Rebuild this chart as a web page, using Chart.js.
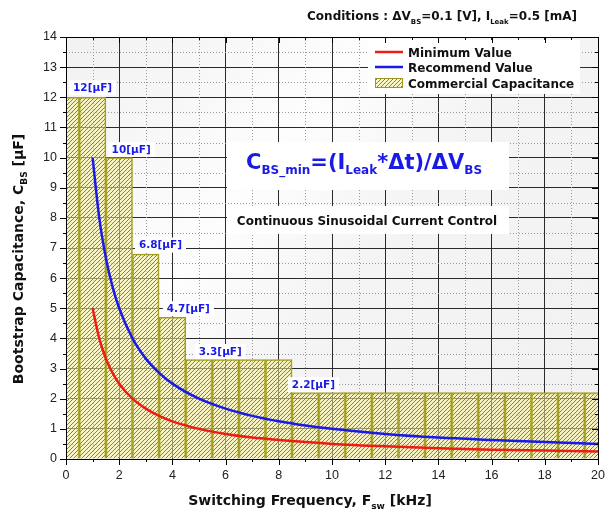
<!DOCTYPE html>
<html>
<head>
<meta charset="utf-8">
<script src="https://cdn.jsdelivr.net/npm/chart.js@4/dist/chart.umd.min.js"></script>
<style>
  body { margin: 0; background: #fff; }
</style>
</head>
<body>
<canvas id="chart" width="605" height="512"></canvas>
<script>
// commercial capacitor steps, one bar per kHz (centred on integers)
const barFreq = [0, 1, 2, 3, 4, 5, 6, 7, 8, 9, 10, 11, 12, 13, 14, 15, 16, 17, 18, 19, 20];
const barCap = [12, 12, 10, 6.8, 4.7, 3.3, 3.3, 3.3, 3.3, 2.2, 2.2, 2.2, 2.2, 2.2, 2.2, 2.2, 2.2, 2.2, 2.2, 2.2, 2.2];

// curves
const curveFreq = [1, 1.25, 1.5, 1.75, 2, 2.5, 3, 3.5, 4, 5, 6, 7, 8, 9, 10, 12, 14, 16, 18, 20];
const recommendCap = [10, 8, 6.67, 5.71, 5, 4, 3.33, 2.86, 2.5, 2, 1.67, 1.43, 1.25, 1.11, 1, 0.83, 0.71, 0.63, 0.56, 0.5];
const minimumCap = [5, 4, 3.33, 2.86, 2.5, 2, 1.67, 1.43, 1.25, 1, 0.83, 0.71, 0.63, 0.56, 0.5, 0.42, 0.36, 0.31, 0.28, 0.25];

// value tags above the steps
const tagText = ['12[µF]', '10[µF]', '6.8[µF]', '4.7[µF]', '3.3[µF]', '2.2[µF]'];
const tagFreq = [1.0, 2.45, 3.55, 4.6, 5.8, 9.3];
const tagCap = [12.3, 10.25, 7.08, 4.97, 3.55, 2.45];

const FONT = '"DejaVu Sans", Verdana, sans-serif';
const RED = '#ee1c12';
const BLUE = '#1a1ae6';

// diagonal hatch like the origin plot
const makeHatch = () => {
  const p = document.createElement('canvas');
  p.width = 4; p.height = 4;
  const c = p.getContext('2d');
  c.fillStyle = 'rgba(246,238,150,0.55)';
  c.fillRect(0, 0, 4, 4);
  c.strokeStyle = '#8e8a0c';
  c.lineWidth = 1;
  c.beginPath();
  c.moveTo(0, 4); c.lineTo(4, 0);
  c.moveTo(-1, 1); c.lineTo(1, -1);
  c.moveTo(3, 5); c.lineTo(5, 3);
  c.stroke();
  return document.getElementById('chart').getContext('2d').createPattern(p, 'repeat');
};
const hatch = makeHatch();

// draw text made of pieces (for subscripts)
const drawRich = (ctx, parts, x, y, align, color) => {
  let w = 0;
  parts.forEach(p => { ctx.font = `bold ${p[1]}px ${FONT}`; w += ctx.measureText(p[0]).width; });
  let cx = align === 'center' ? x - w / 2 : align === 'right' ? x - w : x;
  ctx.fillStyle = color;
  ctx.textAlign = 'left';
  ctx.textBaseline = 'alphabetic';
  parts.forEach(p => {
    ctx.font = `bold ${p[1]}px ${FONT}`;
    ctx.fillText(p[0], cx, y + (p[2] || 0));
    cx += ctx.measureText(p[0]).width;
  });
  return w;
};

const decorPlugin = {
  id: 'decor',
  beforeDraw(chart) {
    const { ctx, chartArea: a } = chart;
    ctx.save();
    const g = ctx.createLinearGradient(a.left, a.top, a.right, a.bottom);
    g.addColorStop(0, '#f1f1f1');
    g.addColorStop(0.35, '#fdfdfd');
    g.addColorStop(0.55, '#f4f4f4');
    g.addColorStop(1, '#f1f1f1');
    ctx.fillStyle = g;
    ctx.fillRect(a.left, a.top, a.right - a.left, a.bottom - a.top);
    ctx.restore();
  },
  beforeDatasetsDraw(chart) {
    // dotted minor grid
    const { ctx, chartArea: a, scales: { x, y } } = chart;
    ctx.save();
    ctx.strokeStyle = '#9a9a9a';
    ctx.lineWidth = 1;
    ctx.setLineDash([1, 2]);
    for (let v = 1; v < 20; v += 2) {
      const px = Math.round(x.getPixelForValue(v)) + 0.5;
      ctx.beginPath(); ctx.moveTo(px, a.top); ctx.lineTo(px, a.bottom); ctx.stroke();
    }
    for (let v = 0.5; v < 14; v += 1) {
      const py = Math.round(y.getPixelForValue(v)) + 0.5;
      ctx.beginPath(); ctx.moveTo(a.left, py); ctx.lineTo(a.right, py); ctx.stroke();
    }
    ctx.restore();
  },
  afterDatasetsDraw(chart) {
    const { ctx, chartArea: a, scales: { x, y } } = chart;
    ctx.save();

    // step tags
    ctx.font = `bold 10.5px ${FONT}`;
    ctx.textBaseline = 'middle';
    ctx.textAlign = 'center';
    tagText.forEach((t, i) => {
      const px = x.getPixelForValue(tagFreq[i]);
      const py = y.getPixelForValue(tagCap[i]);
      const w = ctx.measureText(t).width;
      ctx.fillStyle = '#fff';
      ctx.fillRect(px - w / 2 - 4, py - 8, w + 8, 15);
      ctx.fillStyle = BLUE;
      ctx.fillText(t, px, py);
    });

    // formula box
    ctx.fillStyle = '#fff';
    ctx.fillRect(227, 142, 282, 48);
    drawRich(ctx, [['C', 21], ['BS_min', 12, 5], ['=(I', 21], ['Leak', 12, 5], ['*Δt)/ΔV', 21], ['BS', 12, 5]], 364, 169, 'center', BLUE);
    ctx.fillStyle = '#fff';
    ctx.fillRect(227, 206, 282, 28);
    drawRich(ctx, [['Continuous Sinusoidal Current Control', 12]], 367, 225, 'center', '#111');

    // legend
    ctx.fillStyle = '#fff';
    ctx.fillRect(368, 40, 212, 54);
    ctx.lineWidth = 2.5;
    ctx.strokeStyle = RED;
    ctx.beginPath(); ctx.moveTo(375, 52); ctx.lineTo(403, 52); ctx.stroke();
    ctx.strokeStyle = BLUE;
    ctx.beginPath(); ctx.moveTo(375, 67); ctx.lineTo(403, 67); ctx.stroke();
    ctx.fillStyle = hatch;
    ctx.fillRect(375, 78, 28, 10);
    ctx.strokeStyle = '#9a9820';
    ctx.lineWidth = 1;
    ctx.strokeRect(375.5, 78.5, 27, 9);
    drawRich(ctx, [['Minimum Value', 12]], 408, 57, 'left', '#111');
    drawRich(ctx, [['Recommend Value', 12]], 408, 72, 'left', '#111');
    drawRich(ctx, [['Commercial Capacitance', 12]], 408, 88, 'left', '#111');

    ctx.restore();
  },
  afterDraw(chart) {
    const { ctx, chartArea: a, scales: { x, y } } = chart;
    ctx.save();
    ctx.strokeStyle = '#000';
    ctx.lineWidth = 1;
    // frame
    ctx.strokeRect(Math.round(a.left) + 0.5, Math.round(a.top) + 0.5, Math.round(a.right - a.left), Math.round(a.bottom - a.top));
    // ticks
    ctx.beginPath();
    for (let v = 0; v <= 20; v++) {
      const px = Math.round(x.getPixelForValue(v)) + 0.5;
      const len = v % 2 === 0 ? 6 : 3;
      ctx.moveTo(px, a.bottom); ctx.lineTo(px, a.bottom + len);
      ctx.moveTo(px, a.top); ctx.lineTo(px, a.top + len);
    }
    for (let v = 0; v <= 14; v += 0.5) {
      const py = Math.round(y.getPixelForValue(v)) + 0.5;
      const len = Number.isInteger(v) ? 6 : 3;
      ctx.moveTo(a.left, py); ctx.lineTo(a.left - len, py);
      ctx.moveTo(a.right, py); ctx.lineTo(a.right - len, py);
    }
    ctx.stroke();

    // title and axis titles
    drawRich(ctx, [['Conditions : ΔV', 12], ['BS', 7, 4], ['=0.1 [V], I', 12], ['Leak', 7, 4], ['=0.5 [mA]', 12]], 577, 20, 'right', '#111');
    drawRich(ctx, [['Switching Frequency, F', 14], ['sw', 9, 4], [' [kHz]', 14]], 310, 505, 'center', '#111');
    ctx.translate(23, 259);
    ctx.rotate(-Math.PI / 2);
    drawRich(ctx, [['Bootstrap Capacitance, C', 14], ['BS', 9, 4], [' [µF]', 14]], 0, 0, 'center', '#111');
    ctx.restore();
  }
};

new Chart(document.getElementById('chart'), {
  data: {
    datasets: [
      {
        type: 'line',
        label: 'Minimum Value',
        data: curveFreq.map((f, i) => ({ x: f, y: minimumCap[i] })),
        borderColor: RED,
        borderWidth: 2.5,
        pointRadius: 0,
        cubicInterpolationMode: 'monotone',
        order: 1
      },
      {
        type: 'line',
        label: 'Recommend Value',
        data: curveFreq.map((f, i) => ({ x: f, y: recommendCap[i] })),
        borderColor: BLUE,
        borderWidth: 2.5,
        pointRadius: 0,
        cubicInterpolationMode: 'monotone',
        order: 2
      },
      {
        type: 'bar',
        label: 'Commercial Capacitance',
        data: barFreq.map((f, i) => ({ x: f, y: barCap[i] })),
        backgroundColor: hatch,
        borderColor: '#a09c24',
        borderWidth: 1.2,
        barPercentage: 1,
        categoryPercentage: 1,
        grouped: false,
        order: 3
      }
    ]
  },
  options: {
    responsive: false,
    animation: false,
    layout: { padding: { top: 37, right: 7, left: 0, bottom: 0 } },
    plugins: {
      legend: { display: false },
      tooltip: { enabled: false }
    },
    scales: {
      x: {
        type: 'linear',
        min: 0,
        max: 20,
        offset: false,
        afterFit: s => { s.height = 53; s.paddingLeft = 0; s.paddingRight = 0; },
        ticks: {
          stepSize: 2,
          padding: 9,
          maxRotation: 0,
          color: '#222',
          font: { family: '"Liberation Sans", Arial, sans-serif', size: 12.5 }
        },
        grid: { color: '#2a2a2a', lineWidth: 1, drawTicks: false, offset: false },
        border: { color: '#000' }
      },
      y: {
        min: 0,
        max: 14,
        afterFit: s => { s.width = 66; s.paddingTop = 0; s.paddingBottom = 0; },
        ticks: {
          stepSize: 1,
          padding: 9,
          color: '#222',
          font: { family: '"Liberation Sans", Arial, sans-serif', size: 12.5 }
        },
        grid: { color: '#2a2a2a', lineWidth: 1, drawTicks: false },
        border: { color: '#000' }
      }
    }
  },
  plugins: [decorPlugin]
});
</script>
</body>
</html>
